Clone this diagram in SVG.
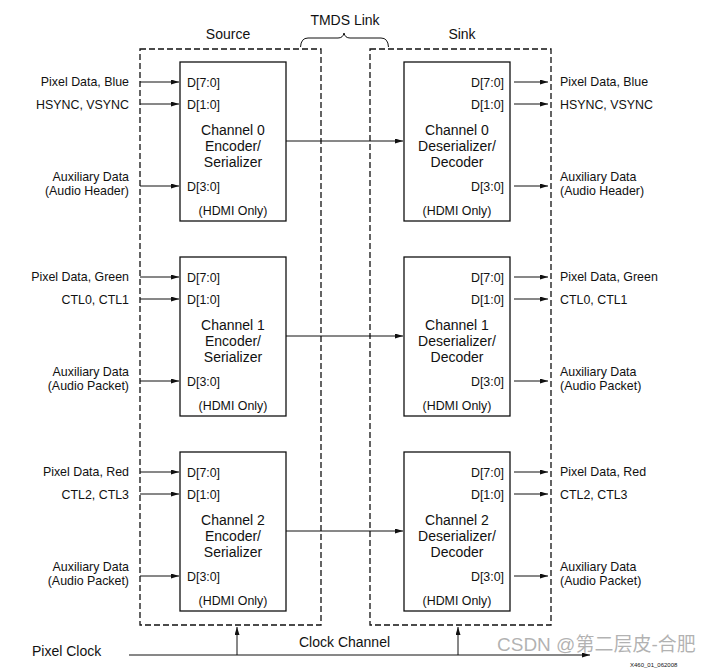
<svg xmlns="http://www.w3.org/2000/svg" width="704" height="668" viewBox="0 0 704 668">
<defs>
<marker id="ah" markerUnits="userSpaceOnUse" markerWidth="9" markerHeight="6" refX="8" refY="2.5" orient="auto"><path d="M0,0 L8,2.5 L0,5 z" fill="#111"/></marker>
<style>
text{font-family:"Liberation Sans",Arial,sans-serif;fill:#111}
.lb{font-size:12.4px}
.big{font-size:14px}
.c{text-anchor:middle}
.r{text-anchor:end}
.box{fill:#fff;stroke:#111;stroke-width:1.3}
.dash{fill:none;stroke:#111;stroke-width:1.3;stroke-dasharray:6,3}
.ln{fill:none;stroke:#111;stroke-width:1}
.ar{fill:none;stroke:#111;stroke-width:1;marker-end:url(#ah)}
</style>
</defs>
<rect width="704" height="668" fill="#fff"/>

<g id="source">
<rect class="dash" x="140" y="49" width="181" height="576"/>
<text class="big c" x="228" y="39">Source</text>
</g>
<g id="sink">
<rect class="dash" x="370" y="49" width="181" height="576"/>
<text class="big c" x="462" y="39">Sink</text>
</g>
<g id="tmds-link">
<path class="ln" d="M300.5,47 Q301,38 308,38 L338,38 Q343,38 344,33 Q345,38 350,38 L381,38 Q388,38 388.5,47"/>
<text class="big c" x="345" y="25">TMDS Link</text>
</g>

<g id="enc0">
<rect class="box" x="180" y="62" width="106" height="159"/>
<text class="lb" x="187" y="87">D[7:0]</text>
<text class="lb" x="187" y="109">D[1:0]</text>
<text class="big c" x="233" y="135">Channel 0</text>
<text class="big c" x="233" y="151">Encoder/</text>
<text class="big c" x="233" y="167">Serializer</text>
<text class="lb" x="187" y="191">D[3:0]</text>
<text class="lb c" x="233" y="215">(HDMI Only)</text>
</g>
<g id="enc1">
<rect class="box" x="180" y="257" width="106" height="159"/>
<text class="lb" x="187" y="282">D[7:0]</text>
<text class="lb" x="187" y="304">D[1:0]</text>
<text class="big c" x="233" y="330">Channel 1</text>
<text class="big c" x="233" y="346">Encoder/</text>
<text class="big c" x="233" y="362">Serializer</text>
<text class="lb" x="187" y="386">D[3:0]</text>
<text class="lb c" x="233" y="410">(HDMI Only)</text>
</g>
<g id="enc2">
<rect class="box" x="180" y="452" width="106" height="159"/>
<text class="lb" x="187" y="477">D[7:0]</text>
<text class="lb" x="187" y="499">D[1:0]</text>
<text class="big c" x="233" y="525">Channel 2</text>
<text class="big c" x="233" y="541">Encoder/</text>
<text class="big c" x="233" y="557">Serializer</text>
<text class="lb" x="187" y="581">D[3:0]</text>
<text class="lb c" x="233" y="605">(HDMI Only)</text>
</g>

<g id="dec0">
<rect class="box" x="404" y="62" width="106" height="159"/>
<text class="lb r" x="504" y="87">D[7:0]</text>
<text class="lb r" x="504" y="109">D[1:0]</text>
<text class="big c" x="457" y="135">Channel 0</text>
<text class="big c" x="457" y="151">Deserializer/</text>
<text class="big c" x="457" y="167">Decoder</text>
<text class="lb r" x="504" y="191">D[3:0]</text>
<text class="lb c" x="457" y="215">(HDMI Only)</text>
</g>
<g id="dec1">
<rect class="box" x="404" y="257" width="106" height="159"/>
<text class="lb r" x="504" y="282">D[7:0]</text>
<text class="lb r" x="504" y="304">D[1:0]</text>
<text class="big c" x="457" y="330">Channel 1</text>
<text class="big c" x="457" y="346">Deserializer/</text>
<text class="big c" x="457" y="362">Decoder</text>
<text class="lb r" x="504" y="386">D[3:0]</text>
<text class="lb c" x="457" y="410">(HDMI Only)</text>
</g>
<g id="dec2">
<rect class="box" x="404" y="452" width="106" height="159"/>
<text class="lb r" x="504" y="477">D[7:0]</text>
<text class="lb r" x="504" y="499">D[1:0]</text>
<text class="big c" x="457" y="525">Channel 2</text>
<text class="big c" x="457" y="541">Deserializer/</text>
<text class="big c" x="457" y="557">Decoder</text>
<text class="lb r" x="504" y="581">D[3:0]</text>
<text class="lb c" x="457" y="605">(HDMI Only)</text>
</g>

<g id="inputs">
<text class="lb r" x="129" y="86">Pixel Data, Blue</text>
<text class="lb r" x="129" y="109">HSYNC, VSYNC</text>
<text class="lb r" x="129" y="181">Auxiliary Data</text>
<text class="lb r" x="129" y="195">(Audio Header)</text>
<text class="lb r" x="129" y="281">Pixel Data, Green</text>
<text class="lb r" x="129" y="304">CTL0, CTL1</text>
<text class="lb r" x="129" y="376">Auxiliary Data</text>
<text class="lb r" x="129" y="390">(Audio Packet)</text>
<text class="lb r" x="129" y="476">Pixel Data, Red</text>
<text class="lb r" x="129" y="499">CTL2, CTL3</text>
<text class="lb r" x="129" y="571">Auxiliary Data</text>
<text class="lb r" x="129" y="585">(Audio Packet)</text>
</g>
<g id="outputs">
<text class="lb" x="560" y="86">Pixel Data, Blue</text>
<text class="lb" x="560" y="109">HSYNC, VSYNC</text>
<text class="lb" x="560" y="181">Auxiliary Data</text>
<text class="lb" x="560" y="195">(Audio Header)</text>
<text class="lb" x="560" y="281">Pixel Data, Green</text>
<text class="lb" x="560" y="304">CTL0, CTL1</text>
<text class="lb" x="560" y="376">Auxiliary Data</text>
<text class="lb" x="560" y="390">(Audio Packet)</text>
<text class="lb" x="560" y="476">Pixel Data, Red</text>
<text class="lb" x="560" y="499">CTL2, CTL3</text>
<text class="lb" x="560" y="571">Auxiliary Data</text>
<text class="lb" x="560" y="585">(Audio Packet)</text>
</g>
<g id="clock">
<text class="big" x="32" y="656">Pixel Clock</text>
<text class="big" x="299" y="647">Clock Channel</text>
</g>

<g id="connectors">
<path class="ar" d="M140,82 H179"/>
<path class="ar" d="M140,104 H179"/>
<path class="ar" d="M140,186 H179"/>
<path class="ar" d="M140,277 H179"/>
<path class="ar" d="M140,299 H179"/>
<path class="ar" d="M140,381 H179"/>
<path class="ar" d="M140,472 H179"/>
<path class="ar" d="M140,494 H179"/>
<path class="ar" d="M140,576 H179"/>
<path class="ar" d="M286,141 H403"/>
<path class="ar" d="M286,336 H403"/>
<path class="ar" d="M286,531 H403"/>
<path class="ar" d="M514,82 H548"/>
<path class="ar" d="M514,104 H548"/>
<path class="ar" d="M514,186 H548"/>
<path class="ar" d="M514,277 H548"/>
<path class="ar" d="M514,299 H548"/>
<path class="ar" d="M514,381 H548"/>
<path class="ar" d="M514,472 H548"/>
<path class="ar" d="M514,494 H548"/>
<path class="ar" d="M514,576 H548"/>
<path class="ar" d="M129,655 H590"/>
<path class="ar" d="M237,655 V627"/>
<path class="ar" d="M458,655 V627"/>
</g>

<text x="497" y="651" style="font-size:19px;fill:#999;fill-opacity:0.75;font-family:'Liberation Sans','Noto Sans CJK SC',sans-serif">CSDN @第二层皮-合肥</text>
<text x="630" y="666.5" style="font-size:6px">X460_01_062008</text>
</svg>
